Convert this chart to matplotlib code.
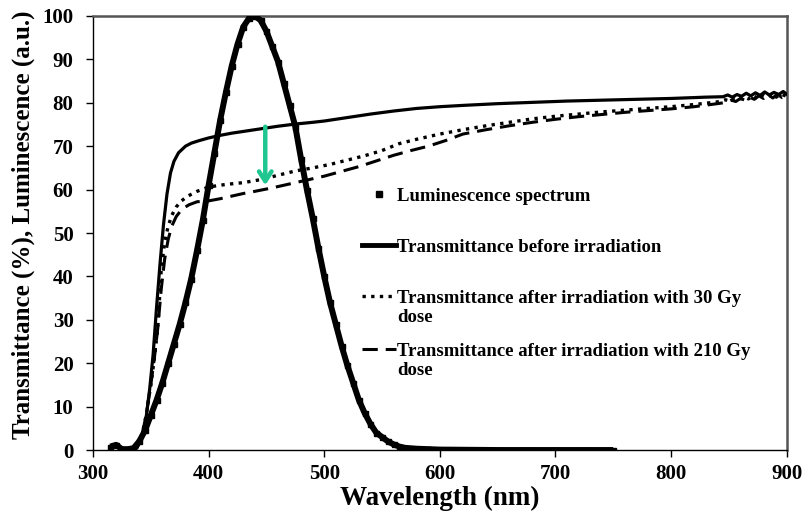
import matplotlib
matplotlib.use("Agg")
import matplotlib.pyplot as plt
from matplotlib.lines import Line2D

plt.rcParams["font.family"] = ["Liberation Serif", "DejaVu Serif"]
plt.rcParams["font.weight"] = "bold"

# Luminescence spectrum (a.u.)
lum_wl = [315, 320, 325, 330, 335, 340, 345, 350, 355, 360, 365, 370, 375, 380,
          385, 390, 395, 400, 405, 410, 415, 420, 425, 430, 435, 440, 445, 450,
          455, 460, 465, 470, 475, 480, 485, 490, 495, 500, 505, 510, 515, 520,
          525, 530, 535, 540, 545, 550, 555, 560, 565, 570, 580, 590, 600, 625,
          650, 675, 700, 725, 750]
lum_val = [0.8, 1.2, 0.2, 0.2, 0.4, 2.0, 4.5, 8.0, 11.5, 15.5, 20.0, 24.5, 29.0,
           34.0, 39.5, 46.0, 53.0, 61.0, 68.5, 76.0, 82.5, 88.5, 93.5, 97.5, 99.5,
           100.0, 99.0, 96.5, 93.0, 89.5, 84.5, 79.5, 74.5, 67.0, 60.0, 53.5, 46.5,
           40.0, 34.0, 29.0, 24.0, 19.5, 15.5, 11.5, 8.5, 6.0, 4.0, 3.0, 2.0, 1.3,
           0.8, 0.5, 0.3, 0.2, 0.1, 0.05, 0.0, 0.0, 0.0, 0.0, 0.0]

# Transmittance before irradiation (%)
t0_wl = [333, 338, 341, 345, 349, 352, 355, 358, 361, 364, 367, 370, 374, 380,
         385, 392, 400, 410, 420, 430, 445, 460, 475, 490, 500, 520, 540, 560,
         580, 600, 620, 650, 680, 710, 740, 770, 800, 830, 845, 849, 853, 857,
         861, 865, 869, 873, 877, 881, 885, 889, 893, 897, 900]
t0_val = [0.0, 0.5, 2.0, 5.5, 14.0, 22.0, 33.0, 43.0, 52.0, 59.0, 63.8, 66.5,
          68.5, 70.0, 70.7, 71.3, 71.9, 72.5, 73.0, 73.4, 74.0, 74.6, 75.1, 75.5,
          75.8, 76.6, 77.4, 78.1, 78.7, 79.1, 79.4, 79.8, 80.1, 80.4, 80.6, 80.8,
          81.0, 81.3, 81.4, 81.8, 81.3, 81.9, 81.5, 82.2, 81.6, 82.3, 81.7, 82.5,
          81.8, 82.4, 81.9, 82.6, 82.0]

# Transmittance after irradiation with 30 Gy dose (%)
t30_wl = [333, 338, 342, 346, 350, 353, 356, 359, 362, 365, 368, 372, 376, 382,
          390, 400, 415, 430, 445, 460, 475, 490, 505, 520, 535, 550, 565, 580,
          600, 620, 640, 660, 680, 700, 720, 740, 760, 780, 800, 820, 840, 847,
          851, 855, 859, 863, 867, 871, 875, 879, 883, 887, 891, 895, 900]
t30_val = [0.0, 0.5, 3.0, 8.0, 15.0, 21.0, 28.0, 41.5, 48.0, 51.5, 54.0, 56.0,
           57.3, 58.5, 59.6, 60.6, 61.2, 61.6, 62.3, 63.3, 64.3, 65.0, 65.8, 66.8,
           67.8, 69.0, 70.6, 71.6, 72.8, 73.8, 74.7, 75.5, 76.3, 76.9, 77.4, 77.9,
           78.3, 78.7, 79.1, 79.6, 80.2, 80.7, 80.4, 81.1, 80.7, 81.4, 80.9, 81.7,
           81.0, 81.9, 81.2, 82.1, 81.3, 82.0, 81.5]

# Transmittance after irradiation with 210 Gy dose (%)
t210_wl = [333, 338, 342, 346, 350, 353, 356, 359, 362, 365, 368, 372, 377, 383,
           390, 400, 410, 420, 430, 440, 455, 470, 485, 500, 515, 530, 545, 560,
           575, 590, 605, 620, 640, 660, 680, 700, 720, 740, 760, 780, 800, 820,
           840, 848, 852, 856, 860, 864, 868, 872, 876, 880, 884, 888, 892, 896,
           900]
t210_val = [0.0, 0.5, 3.0, 8.0, 15.0, 21.0, 28.0, 37.0, 44.0, 48.5, 51.5, 53.8,
            55.5, 56.5, 57.2, 57.4, 57.9, 58.5, 59.1, 59.6, 60.4, 61.3, 62.2, 63.1,
            64.2, 65.3, 66.6, 67.9, 69.0, 70.0, 71.3, 72.8, 73.8, 74.7, 75.5, 76.2,
            76.8, 77.3, 77.8, 78.2, 78.6, 79.1, 79.8, 80.1, 80.6, 80.3, 81.0, 80.6,
            81.3, 80.8, 81.6, 81.0, 81.9, 81.1, 82.0, 81.2, 81.6]

# Arrow marking the drop in transmittance after irradiation
arrow_wl = 449
arrow_from = 74.5
arrow_to = 61.0

x_ticks = [300, 400, 500, 600, 700, 800, 900]
y_ticks = [0, 10, 20, 30, 40, 50, 60, 70, 80, 90, 100]

legend_labels = [
    "Luminescence spectrum",
    "Transmittance before irradiation",
    "Transmittance after irradiation with 30 Gy\ndose",
    "Transmittance after irradiation with 210 Gy\ndose",
]

fig = plt.figure(figsize=(8.08, 5.19), dpi=100)
ax = fig.add_axes([0.1151, 0.1329, 0.8585, 0.8363])

ax.plot(lum_wl, lum_val, color="black", lw=4.3, solid_capstyle="butt",
        solid_joinstyle="round", marker="s", ms=3.6, zorder=3)
ax.plot(t0_wl, t0_val, color="black", lw=2.3, zorder=4)
ax.plot(t30_wl, t30_val, color="black", lw=2.4, linestyle=(0, (1, 1.6)), zorder=4)
ax.plot(t210_wl, t210_val, color="black", lw=2.2, linestyle=(0, (5, 2.6)), zorder=4)

ax.annotate("", xy=(arrow_wl, arrow_to), xytext=(arrow_wl, arrow_from),
            arrowprops=dict(arrowstyle="->,head_length=0.7,head_width=0.45",
                            color="#1fc690", lw=3.2, shrinkA=0, shrinkB=0),
            zorder=6)

ax.set_xlim(300, 900)
ax.set_ylim(0, 100)
ax.set_xticks(x_ticks)
ax.set_yticks(y_ticks)
ax.tick_params(axis="both", direction="out", length=5, width=1,
               labelsize=15, colors="black")
ax.tick_params(axis="y", pad=9)
ax.tick_params(axis="x", pad=5)

for side in ("left", "bottom"):
    ax.spines[side].set_color("black")
    ax.spines[side].set_linewidth(1.0)
for side in ("top", "right"):
    ax.spines[side].set_color("#555555")
    ax.spines[side].set_linewidth(1.8)

ax.set_xlabel("Wavelength (nm)", fontsize=19.5, fontweight="bold")
ax.set_ylabel("Transmittance (%), Luminescence (a.u.)", fontsize=18,
              fontweight="bold")
ax.xaxis.set_label_coords(0.5, -0.083)
ax.yaxis.set_label_coords(-0.084, 0.52)

handles = [
    Line2D([], [], color="black", ls="none", marker="s", ms=5),
    Line2D([], [], color="black", lw=3.5),
    Line2D([], [], color="black", lw=2.4, linestyle=(0, (1, 1.6))),
    Line2D([], [], color="black", lw=2.2, linestyle=(0, (5, 2.6))),
]
legend_tops = [0.604, 0.487, 0.369, 0.247]

for i, (h, lab, top) in enumerate(zip(handles, legend_labels, legend_tops)):
    leg = ax.legend([h], [lab], loc="upper left", bbox_to_anchor=(0.388, top),
                    frameon=False, fontsize=13.5, handlelength=1.8,
                    handletextpad=0.05, borderpad=0, borderaxespad=0)
    try:
        for col in leg._legend_handle_box.get_children():
            for item in col.get_children():
                item.align = "top"
    except AttributeError:
        pass
    if i < len(handles) - 1:
        ax.add_artist(leg)

fig.savefig("out.png", dpi=100)
